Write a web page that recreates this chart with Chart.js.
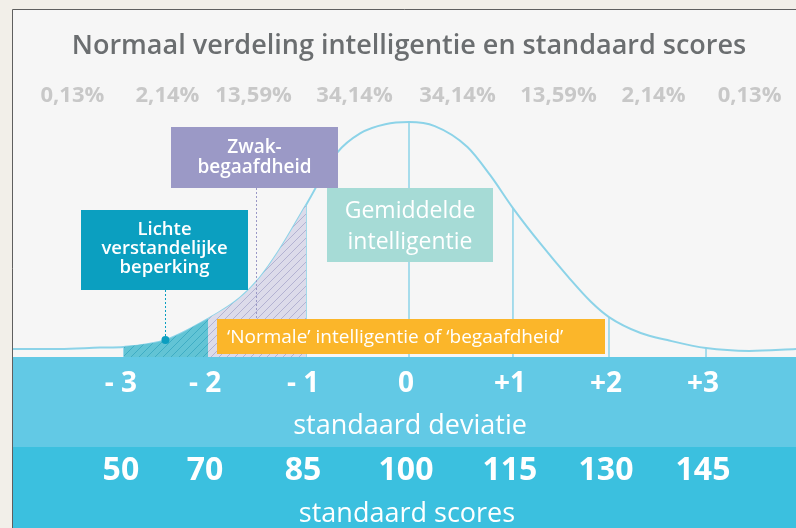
<!DOCTYPE html>
<html>
<head>
<meta charset="utf-8">
<title>Normaal verdeling intelligentie</title>
<script src="https://cdn.jsdelivr.net/npm/chart.js@4.4.1/dist/chart.umd.min.js"></script>
<style>
  html, body { margin: 0; padding: 0; background: #f2efe9; }
  #grafico { display: block; }
</style>
</head>
<body>
<canvas id="grafico" width="796" height="528"></canvas>
<script>
// ── Datos ───────────────────────────────────────
// curva: posición en desviaciones estándar / altura relativa (pico = 100)
const curvaZ = [-4.0, -3.53, -3.12, -2.88, -2.46, -2.03, -1.71, -1.51, -1.31, -1.04, -0.73, -0.49, -0.24, 0, 0.26, 0.59, 0.82, 1.05, 1.33, 1.61, 1.84, 2.02, 2.34, 2.61, 3.0, 3.44, 3.91];
const curvaH = [3.4, 3.4, 4.0, 4.3, 7.2, 16.2, 25.1, 33.6, 45.5, 64.7, 86.8, 95.3, 99.1, 100, 98.3, 89.4, 77.4, 63.4, 48.1, 34.0, 23.4, 17.0, 10.2, 7.2, 3.8, 2.6, 3.4];

const sdLabels    = ['- 3', '- 2', '- 1', '0', '+1', '+2', '+3'];
const sdPos       = [-2.88, -2.03, -1.04, 0, 1.05, 2.02, 3.0];
const sdCurvaH    = [4.3, 16.2, 64.7, 100, 63.4, 17.0, 3.8];
const scoreLabels = ['50', '70', '85', '100', '115', '130', '145'];

const pctLabels = ['0,13%', '2,14%', '13,59%', '34,14%', '34,14%', '13,59%', '2,14%', '0,13%'];
const pctPos    = [-3.40, -2.44, -1.57, -0.55, 0.49, 1.51, 2.47, 3.44];

const titulo      = 'Normaal verdeling intelligentie en standaard scores';
const ejeSd       = 'standaard deviatie';
const ejeScores   = 'standaard scores';
const puntoLichte = { x: -2.46, y: 7.2 };

// ── Helpers ──────────────────────────────────
function hatch(bg, line) {
    const c = document.createElement('canvas');
    c.width = 8; c.height = 8;
    const g = c.getContext('2d');
    g.fillStyle = bg;
    g.fillRect(0, 0, 8, 8);
    g.strokeStyle = line;
    g.lineWidth = 1;
    g.beginPath();
    g.moveTo(0, 8); g.lineTo(8, 0);
    g.moveTo(-1, 1); g.lineTo(1, -1);
    g.moveTo(7, 9); g.lineTo(9, 7);
    g.stroke();
    return g.createPattern(c, 'repeat');
}

function tramo(desde, hasta) {
    const pts = [];
    curvaZ.forEach((z, i) => {
        if (z >= desde - 1e-9 && z <= hasta + 1e-9) pts.push({ x: z, y: curvaH[i] });
    });
    return pts;
}

function caja(ctx, x, y, w, h, color, lineas, font, lh, alinear) {
    ctx.fillStyle = color;
    ctx.fillRect(x, y, w, h);
    ctx.fillStyle = '#ffffff';
    ctx.font = font;
    ctx.textBaseline = 'alphabetic';
    ctx.textAlign = alinear || 'center';
    lineas.forEach((t, i) => {
        const tx = alinear === 'left' ? x + 10 : x + w / 2;
        ctx.fillText(t, tx, lh[i]);
    });
}

const AZUL_CURVA = '#8cd3e8';
const FUENTE = '"Open Sans", "Noto Sans", sans-serif';

// ── Plugin: marco, títulos, cajas y bandas ────
const decoracion = {
    id: 'decoracion',
    beforeDraw(chart) {
        const ctx = chart.ctx;
        const x = chart.scales.x;
        ctx.save();
        ctx.fillStyle = '#f2efe9';
        ctx.fillRect(0, 0, chart.width, chart.height);
        ctx.fillStyle = '#f6f6f6';
        ctx.fillRect(13, 10, chart.width - 13, chart.height - 10);
        ctx.strokeStyle = '#5f5f5f';
        ctx.lineWidth = 1;
        ctx.beginPath();
        ctx.moveTo(12.5, chart.height); ctx.lineTo(12.5, 9.5); ctx.lineTo(chart.width, 9.5);
        ctx.stroke();

        ctx.textAlign = 'center';
        ctx.textBaseline = 'alphabetic';
        ctx.fillStyle = '#6b6e70';
        ctx.font = '600 27px ' + FUENTE;
        ctx.fillText(titulo, 409, 54);

        ctx.fillStyle = '#c8c8c8';
        ctx.font = '700 22px ' + FUENTE;
        pctLabels.forEach((t, i) => ctx.fillText(t, x.getPixelForValue(pctPos[i]), 102));
        ctx.restore();
    },
    afterDatasetsDraw(chart) {
        const ctx = chart.ctx;
        const x = chart.scales.x;
        const y = chart.scales.y;
        ctx.save();

        // líneas punteadas
        ctx.setLineDash([2, 2]);
        ctx.lineWidth = 1;
        ctx.strokeStyle = '#9a98c6';
        ctx.beginPath(); ctx.moveTo(256.5, 188); ctx.lineTo(256.5, 319); ctx.stroke();
        const px = x.getPixelForValue(puntoLichte.x);
        const py = y.getPixelForValue(puntoLichte.y);
        ctx.strokeStyle = '#0b9ec0';
        ctx.beginPath(); ctx.moveTo(Math.round(px) + 0.5, 290); ctx.lineTo(Math.round(px) + 0.5, py); ctx.stroke();
        ctx.setLineDash([]);
        ctx.fillStyle = '#0b9ec0';
        ctx.beginPath(); ctx.arc(px, py, 4, 0, Math.PI * 2); ctx.fill();

        // cajas
        caja(ctx, 171, 127, 167, 61, '#9b99c6', ['Zwak-', 'begaafdheid'], '600 19px ' + FUENTE, [153, 173]);
        caja(ctx, 81, 210, 167, 80, '#0b9fc0', ['Lichte', 'verstandelijke', 'beperking'], '600 18.5px ' + FUENTE, [235, 254, 273]);
        caja(ctx, 327, 188, 166, 74, '#a6dbd6', ['Gemiddelde', 'intelligentie'], '400 23px ' + FUENTE, [218, 249]);
        caja(ctx, 217, 319, 388, 35, '#fbb62a', ['\u2018Normale\u2019 intelligentie of \u2018begaafdheid\u2019'], '400 19px ' + FUENTE, [343], 'left');

        // bandas inferiores
        ctx.fillStyle = '#62c9e5';
        ctx.fillRect(13, 357, chart.width - 13, 90);
        ctx.fillStyle = '#3bc0df';
        ctx.fillRect(13, 447, chart.width - 13, 81);

        ctx.fillStyle = '#ffffff';
        ctx.textAlign = 'center';
        ctx.textBaseline = 'alphabetic';
        ctx.font = '700 28px ' + FUENTE;
        sdLabels.forEach((t, i) => ctx.fillText(t, x.getPixelForValue(sdPos[i]) - 3, 392));
        ctx.font = '700 32px ' + FUENTE;
        scoreLabels.forEach((t, i) => ctx.fillText(t, x.getPixelForValue(sdPos[i]) - 3, 480));
        ctx.font = '400 27px ' + FUENTE;
        ctx.fillText(ejeSd, 410, 434);
        ctx.fillText(ejeScores, 407, 522);
        ctx.restore();
    }
};

// ── Datasets ─────────────────────────────────
const lineasSd = sdPos.map((p, i) => ({
    data: [{ x: p, y: 0 }, { x: p, y: sdCurvaH[i] }],
    borderColor: AZUL_CURVA,
    borderWidth: 1.5,
    pointRadius: 0,
    fill: false,
    tension: 0
}));

new Chart(document.getElementById('grafico'), {
    type: 'line',
    data: {
        datasets: [
            {
                data: tramo(sdPos[0], sdPos[1]),
                borderWidth: 0,
                pointRadius: 0,
                backgroundColor: hatch('#62c4d5', '#3fadc4'),
                fill: 'origin',
                cubicInterpolationMode: 'monotone'
            },
            {
                data: tramo(sdPos[1], sdPos[2]),
                borderWidth: 0,
                pointRadius: 0,
                backgroundColor: hatch('#dcdbea', '#b3b2d2'),
                fill: 'origin',
                cubicInterpolationMode: 'monotone'
            },
            ...lineasSd,
            {
                data: curvaZ.map((z, i) => ({ x: z, y: curvaH[i] })),
                borderColor: AZUL_CURVA,
                borderWidth: 2,
                pointRadius: 0,
                fill: false,
                cubicInterpolationMode: 'monotone'
            }
        ]
    },
    options: {
        responsive: false,
        animation: false,
        layout: { padding: { left: 13, top: 10, right: 0, bottom: 171 } },
        plugins: { legend: { display: false }, tooltip: { enabled: false } },
        scales: {
            x: { type: 'linear', min: -4.0, max: 3.909, display: false },
            y: { min: 0, max: 147.7, display: false }
        }
    },
    plugins: [decoracion]
});
</script>
</body>
</html>
